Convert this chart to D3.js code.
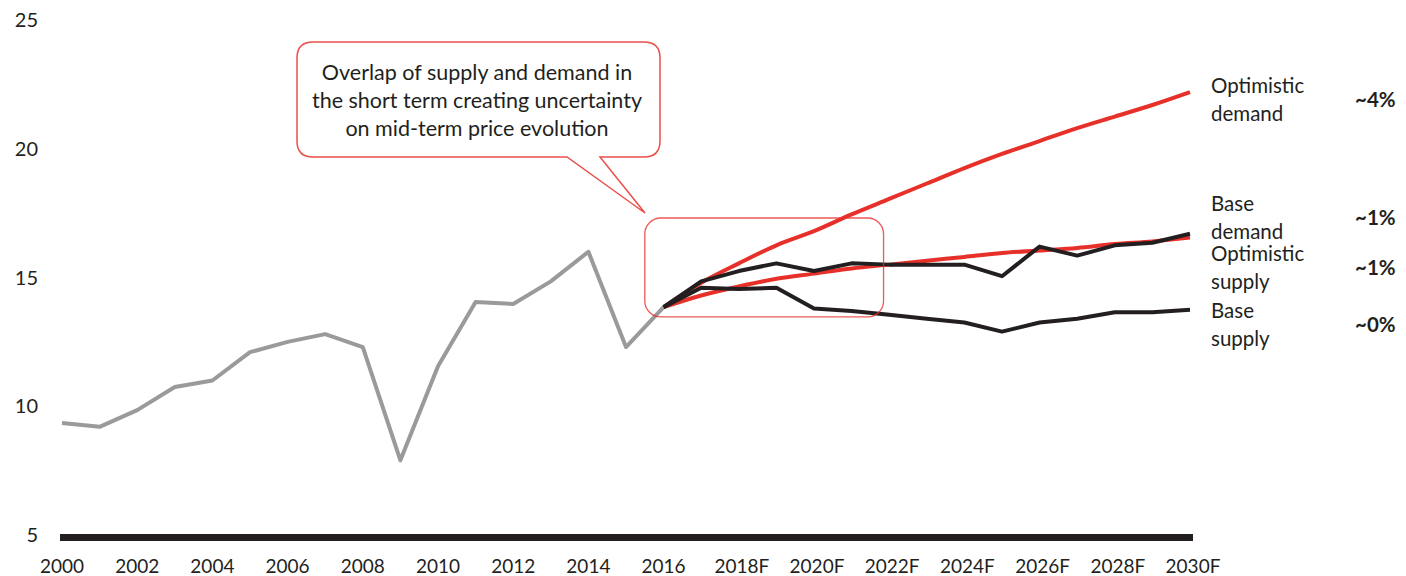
<!DOCTYPE html>
<html>
<head>
<meta charset="utf-8">
<script src="https://cdn.jsdelivr.net/npm/d3@7"></script>
<style>
  body { margin: 0; background: #fff; }
  svg text { font-family: Lato, "Noto Sans", sans-serif; fill: #231f20; }
</style>
</head>
<body>
<svg width="1406" height="576"></svg>
<script>
// Historical price (gray)
var histYears = d3.range(2000, 2017);
var histValues = [9.35, 9.2, 9.85, 10.75, 11.0, 12.1, 12.5, 12.8, 12.3, 7.9,
                  11.55, 14.05, 13.97, 14.85, 16.0, 12.3, 13.85];

// Forecasts 2016-2030
var fcYears = d3.range(2016, 2031);
var optDemand = [13.85, 14.8, 15.55, 16.25, 16.8, 17.45, 18.05, 18.65, 19.25, 19.8,
                 20.3, 20.8, 21.25, 21.7, 22.2];
var baseDemand = [13.85, 14.3, 14.65, 14.95, 15.15, 15.35, 15.5, 15.65, 15.8, 15.95,
                  16.05, 16.15, 16.3, 16.4, 16.55];
var optSupply = [13.85, 14.85, 15.25, 15.55, 15.25, 15.55, 15.5, 15.5, 15.5, 15.05,
                 16.2, 15.85, 16.25, 16.35, 16.7];
var baseSupply = [13.85, 14.6, 14.55, 14.6, 13.8, 13.7, 13.55, 13.4, 13.25, 12.9,
                  13.25, 13.4, 13.65, 13.65, 13.75];

var yTicks = [5, 10, 15, 20, 25];
var xTicks = d3.range(2000, 2031, 2);

var seriesLabels = [
    { lines: ["Optimistic", "demand"], cagr: "~4%", y: 100 },
    { lines: ["Base", "demand"], cagr: "~1%", y: 218 },
    { lines: ["Optimistic", "supply"], cagr: "~1%", y: 268 },
    { lines: ["Base", "supply"], cagr: "~0%", y: 325 }
];

var calloutText = ["Overlap of supply and demand in",
                   "the short term creating uncertainty",
                   "on mid-term price evolution"];

var svg = d3.select("svg");

var x = d3.scaleLinear().domain([2000, 2030]).range([62, 1190]);
var y = d3.scaleLinear().domain([5, 25]).range([535, 20]);

var red = "#e8302a", black = "#231f20", gray = "#9a9a9d";

// x axis bar
svg.append("rect")
    .attr("x", x(2000) - 2)
    .attr("y", y(5) - 1)
    .attr("width", x(2030) - x(2000) + 5)
    .attr("height", 7)
    .attr("fill", black);

// y labels
svg.append("g").selectAll("text")
    .data(yTicks)
    .enter().append("text")
    .attr("x", 38)
    .attr("y", function (d) { return y(d); })
    .attr("dy", "0.35em")
    .attr("text-anchor", "end")
    .attr("font-size", 20)
    .text(function (d) { return d; });

// x labels
svg.append("g").selectAll("text")
    .data(xTicks)
    .enter().append("text")
    .attr("x", function (d) { return x(d) + (d > 2016 ? 3 : 0); })
    .attr("y", 566)
    .attr("dy", "0.35em")
    .attr("text-anchor", "middle")
    .attr("font-size", 19)
    .text(function (d) { return d > 2016 ? d + "F" : d; });

var line = d3.line()
    .x(function (d) { return x(d[0]); })
    .y(function (d) { return y(d[1]); });

var curved = d3.line()
    .x(function (d) { return x(d[0]); })
    .y(function (d) { return y(d[1]); })
    .curve(d3.curveMonotoneX);

function drawLine(years, values, color, gen) {
    svg.append("path")
        .datum(d3.zip(years, values))
        .attr("fill", "none")
        .attr("stroke", color)
        .attr("stroke-width", 4)
        .attr("stroke-linejoin", "round")
        .attr("d", gen);
}

drawLine(histYears, histValues, gray, line);
drawLine(fcYears, optDemand, red, curved);
drawLine(fcYears, baseDemand, red, curved);
drawLine(fcYears, optSupply, black, line);
drawLine(fcYears, baseSupply, black, line);

// highlight box round the overlap
svg.append("rect")
    .attr("x", x(2015.5))
    .attr("y", y(17.31))
    .attr("width", x(2021.85) - x(2015.5))
    .attr("height", y(13.47) - y(17.31))
    .attr("rx", 16)
    .attr("fill", "none")
    .attr("stroke", red)
    .attr("stroke-opacity", 0.8)
    .attr("stroke-width", 1.3);

// callout bubble
var bx0 = 297, bx1 = 660, by0 = 42, by1 = 157, r = 16;
var tipX = 645, tipY = 213, t0 = 567, t1 = 600;
var bubble = "M" + (bx0 + r) + "," + by0 +
    "H" + (bx1 - r) + "Q" + bx1 + "," + by0 + " " + bx1 + "," + (by0 + r) +
    "V" + (by1 - r) + "Q" + bx1 + "," + by1 + " " + (bx1 - r) + "," + by1 +
    "H" + t1 + "L" + tipX + "," + tipY + "L" + t0 + "," + by1 +
    "H" + (bx0 + r) + "Q" + bx0 + "," + by1 + " " + bx0 + "," + (by1 - r) +
    "V" + (by0 + r) + "Q" + bx0 + "," + by0 + " " + (bx0 + r) + "," + by0 + "Z";
svg.append("path")
    .attr("d", bubble)
    .attr("fill", "#fff")
    .attr("stroke", red)
    .attr("stroke-opacity", 0.85)
    .attr("stroke-width", 1.5);

svg.append("g").selectAll("text")
    .data(calloutText)
    .enter().append("text")
    .attr("x", 477)
    .attr("y", function (d, i) { return 72 + i * 28; })
    .attr("dy", "0.35em")
    .attr("text-anchor", "middle")
    .attr("font-size", 21.5)
    .text(function (d) { return d; });

// right labels
var lab = svg.append("g").selectAll("g")
    .data(seriesLabels)
    .enter().append("g");

lab.append("text")
    .attr("x", 1211)
    .attr("y", function (d) { return d.y - 14; })
    .attr("dy", "0.35em")
    .attr("font-size", 20.5)
    .selectAll("tspan")
    .data(function (d) { return d.lines; })
    .enter().append("tspan")
    .attr("x", 1211)
    .attr("dy", function (d, i) { return i === 0 ? "0.35em" : 28; })
    .text(function (d) { return d; });

lab.append("text")
    .attr("x", 1355)
    .attr("y", function (d) { return d.y; })
    .attr("dy", "0.35em")
    .attr("font-size", 20.5)
    .attr("font-weight", "bold")
    .text(function (d) { return d.cagr; });
</script>
</body>
</html>
